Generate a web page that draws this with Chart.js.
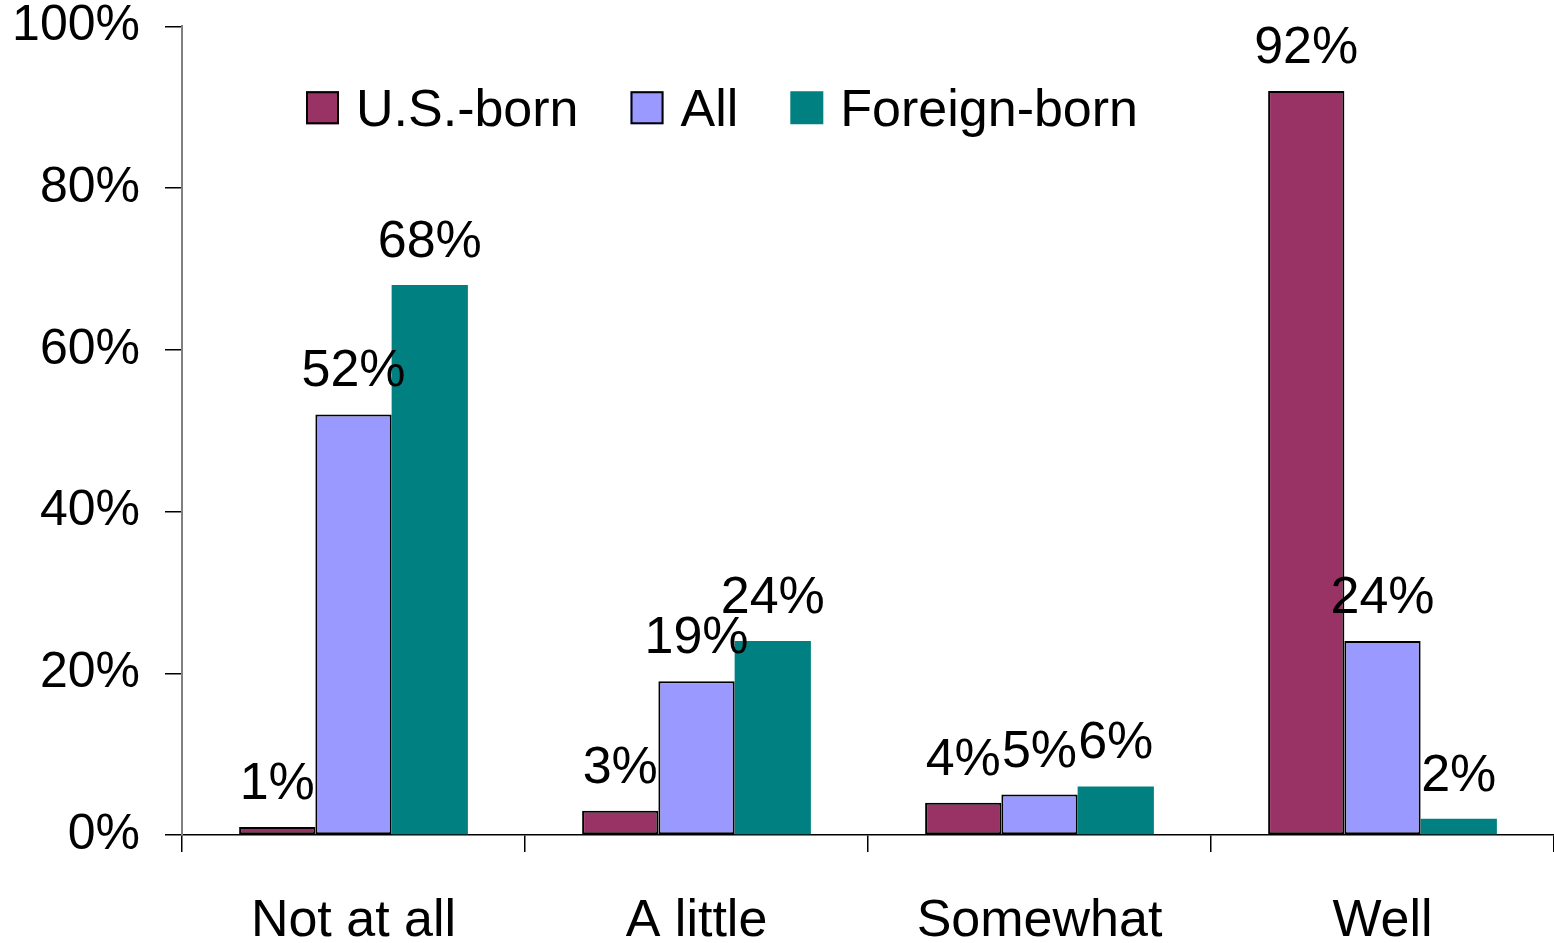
<!DOCTYPE html>
<html>
<head>
<meta charset="utf-8">
<script src="https://cdn.jsdelivr.net/npm/chart.js@4.4.1/dist/chart.umd.min.js"></script>
<style>
  html, body { margin: 0; padding: 0; background: #fff; }
  #wrap { width: 1554px; height: 943px; position: relative; }
</style>
</head>
<body>
<div id="wrap"><canvas id="c"></canvas></div>
<script>
const categories = ["Not at all", "A little", "Somewhat", "Well"];
const usBorn = [1, 3, 4, 92];
const allPeople = [52, 19, 5, 24];
const foreignBorn = [68, 24, 6, 2];
const seriesNames = ["U.S.-born", "All", "Foreign-born"];
const yTickValues = [0, 20, 40, 60, 80, 100];

const FONT = '"Liberation Sans", Arial, sans-serif';

const dataLabels = {
  id: 'dataLabels',
  afterDatasetsDraw(chart) {
    const ctx = chart.ctx;
    ctx.save();
    ctx.font = '52px ' + FONT;
    ctx.fillStyle = '#000';
    ctx.textAlign = 'center';
    ctx.textBaseline = 'alphabetic';
    chart.data.datasets.forEach((ds, di) => {
      const meta = chart.getDatasetMeta(di);
      meta.data.forEach((bar, i) => {
        ctx.fillText(ds.data[i] + '%', bar.x, bar.y - 28);
      });
    });
    ctx.restore();
  }
};

const customLegend = {
  id: 'customLegend',
  afterDraw(chart) {
    const ctx = chart.ctx;
    const area = chart.chartArea;
    ctx.save();
    ctx.font = '52px ' + FONT;
    ctx.textBaseline = 'alphabetic';
    ctx.textAlign = 'left';
    let x = area.left + 124;
    const boxTop = area.top + 65;
    const box = 33;
    chart.data.datasets.forEach((ds) => {
      ctx.fillStyle = ds.backgroundColor;
      ctx.fillRect(x, boxTop, box, box);
      if (ds.borderWidth) {
        ctx.strokeStyle = '#000';
        ctx.lineWidth = 2;
        ctx.strokeRect(x + 1, boxTop + 1, box - 2, box - 2);
      }
      ctx.fillStyle = '#000';
      ctx.fillText(ds.label, x + box + 17, boxTop + box + 2);
      x += box + 17 + ctx.measureText(ds.label).width + 52;
    });
    ctx.restore();
  }
};

new Chart(document.getElementById('c'), {
  type: 'bar',
  data: {
    labels: categories,
    datasets: [
      { label: seriesNames[0], data: usBorn, backgroundColor: '#993366', borderColor: '#000', borderWidth: 2, borderSkipped: false },
      { label: seriesNames[1], data: allPeople, backgroundColor: '#9999FF', borderColor: '#000', borderWidth: 2, borderSkipped: false },
      { label: seriesNames[2], data: foreignBorn, backgroundColor: '#008080', borderWidth: 0 }
    ]
  },
  options: {
    responsive: true,
    maintainAspectRatio: false,
    animation: false,
    layout: { padding: { top: 0, right: 0, bottom: 0, left: 0 } },
    datasets: { bar: { categoryPercentage: 0.667, barPercentage: 1.0 } },
    plugins: {
      legend: { display: false },
      tooltip: { enabled: false }
    },
    scales: {
      x: {
        offset: true,
        afterFit(scale) { scale.height = 108; },
        grid: { offset: true, drawOnChartArea: false, drawTicks: true, tickLength: 17, color: '#000', lineWidth: 1.5 },
        border: { display: true, color: '#000', width: 1.5 },
        ticks: { color: '#000', font: { family: FONT, size: 52, lineHeight: 0.843 }, padding: 48, maxRotation: 0 }
      },
      y: {
        min: 0,
        max: 100,
        afterBuildTicks(scale) { scale.ticks = yTickValues.map(v => ({ value: v })); },
        afterFit(scale) { scale.width = 182; },
        grid: { drawOnChartArea: false, drawTicks: true, tickLength: 17, color: '#000', lineWidth: 1.5 },
        border: { display: true, color: '#808080', width: 2 },
        ticks: { color: '#000', font: { family: FONT, size: 50, lineHeight: 0.05 }, padding: 25, callback: v => v + '%' }
      }
    }
  },
  plugins: [dataLabels, customLegend]
});
</script>
</body>
</html>
